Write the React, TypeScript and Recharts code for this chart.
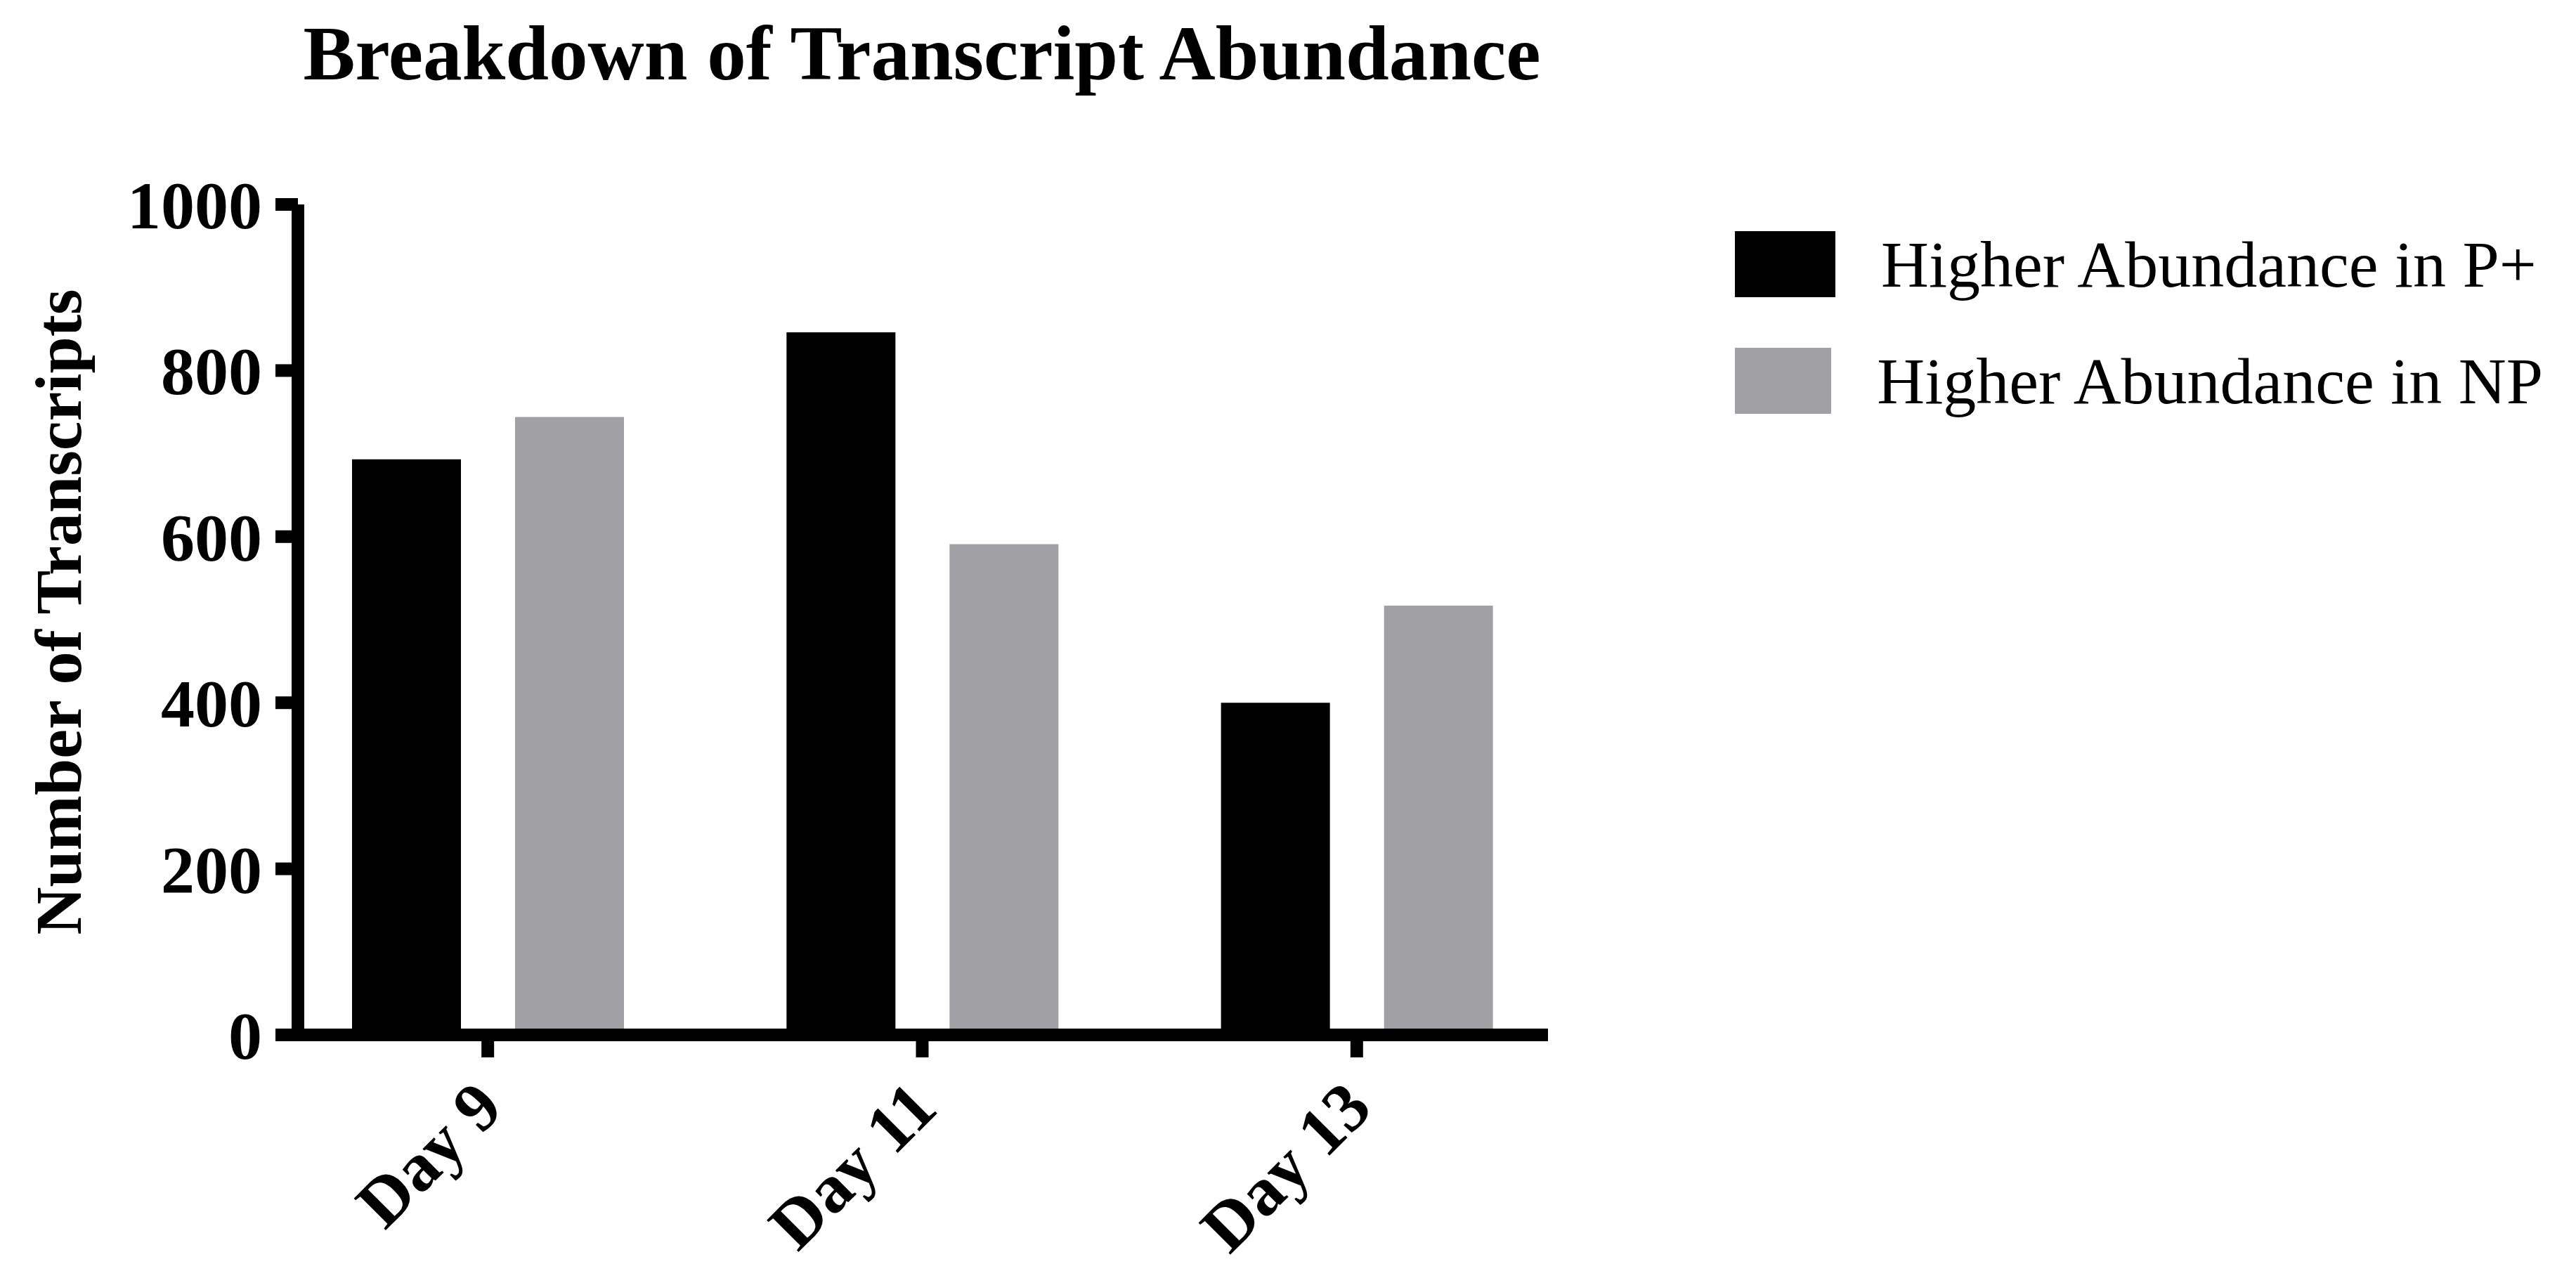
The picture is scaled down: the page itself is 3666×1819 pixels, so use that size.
import React from 'react';
import { BarChart, Bar, XAxis, YAxis, Legend } from 'recharts';

const days = ['Day 9', 'Day 11', 'Day 13'];
const higherInPPlus = [693, 846, 400];
const higherInNP = [744, 591, 517];
const yTicks = [0, 200, 400, 600, 800, 1000];

const seriesNames = ['Higher Abundance in P+', 'Higher Abundance in NP'];
const seriesColors = ['#000000', '#a1a0a5'];

const FONT = '"Liberation Serif", "Times New Roman", serif';

const chartData = days.map((day, i) => ({
  day,
  pplus: higherInPPlus[i],
  np: higherInNP[i],
}));

// rotated day labels under the ticks
const DayTick = ({ x, y, payload }: any) => {
  const tx = x + 25;
  const ty = y + 76;
  return (
    <text
      x={tx}
      y={ty}
      transform={`rotate(-45, ${tx}, ${ty})`}
      textAnchor="end"
      fontFamily={FONT}
      fontWeight="bold"
      fontSize={98}
      fill="#000"
    >
      {payload.value}
    </text>
  );
};

// keep legend rows in series order (recharts sorts by name otherwise)
const renderLegend = ({ payload }: any) => {
  const items = [...(payload || [])].sort(
    (a: any, b: any) => seriesNames.indexOf(a.value) - seriesNames.indexOf(b.value)
  );
  return (
    <div style={{ fontFamily: FONT }}>
      {items.map((entry: any, i: number) => (
        <div
          key={entry.value}
          style={{ display: 'flex', alignItems: 'center', height: 94, marginBottom: i === 0 ? 72 : 0 }}
        >
          <div style={{ width: 143, height: 94, background: entry.color, marginRight: 65 }} />
          <span style={{ fontSize: 94, lineHeight: '94px', color: '#000', whiteSpace: 'nowrap' }}>
            {entry.value}
          </span>
        </div>
      ))}
    </div>
  );
};

const App: React.FC = () => {
  return (
    <BarChart
      width={3650}
      height={1800}
      data={chartData}
      margin={{ top: 283, right: 1455, bottom: 135, left: 216 }}
      barGap={77}
      barSize={155}
    >
      <text
        x={1304}
        y={105}
        textAnchor="middle"
        fontFamily={FONT}
        fontWeight="bold"
        fontSize={111}
        fill="#000"
      >
        Breakdown of Transcript Abundance
      </text>
      <text
        x={107}
        y={863}
        transform="rotate(-90, 107, 863)"
        textAnchor="middle"
        fontFamily={FONT}
        fontWeight="bold"
        fontSize={94}
        fill="#000"
      >
        Number of Transcripts
      </text>
      <XAxis
        dataKey="day"
        height={200}
        padding={{ left: -39, right: -37 }}
        axisLine={{ stroke: '#000', strokeWidth: 18 }}
        tickLine={{ stroke: '#000', strokeWidth: 18 }}
        tickSize={32}
        tickMargin={0}
        tick={<DayTick />}
        interval={0}
      />
      <YAxis
        type="number"
        domain={[0, 1000]}
        ticks={yTicks}
        width={200}
        axisLine={{ stroke: '#000', strokeWidth: 18 }}
        tickLine={{ stroke: '#000', strokeWidth: 18 }}
        tickSize={32}
        tickMargin={19}
        tick={{ fontFamily: FONT, fontWeight: 'bold', fontSize: 96, fill: '#000' }}
        interval={0}
      />
      <Legend
        layout="vertical"
        align="center"
        verticalAlign="middle"
        content={renderLegend}
        wrapperStyle={{ left: 2461, top: 321, width: 1150 }}
      />
      <Bar dataKey="pplus" name={seriesNames[0]} fill={seriesColors[0]} isAnimationActive={false} />
      <Bar dataKey="np" name={seriesNames[1]} fill={seriesColors[1]} isAnimationActive={false} />
    </BarChart>
  );
};

export default App;
